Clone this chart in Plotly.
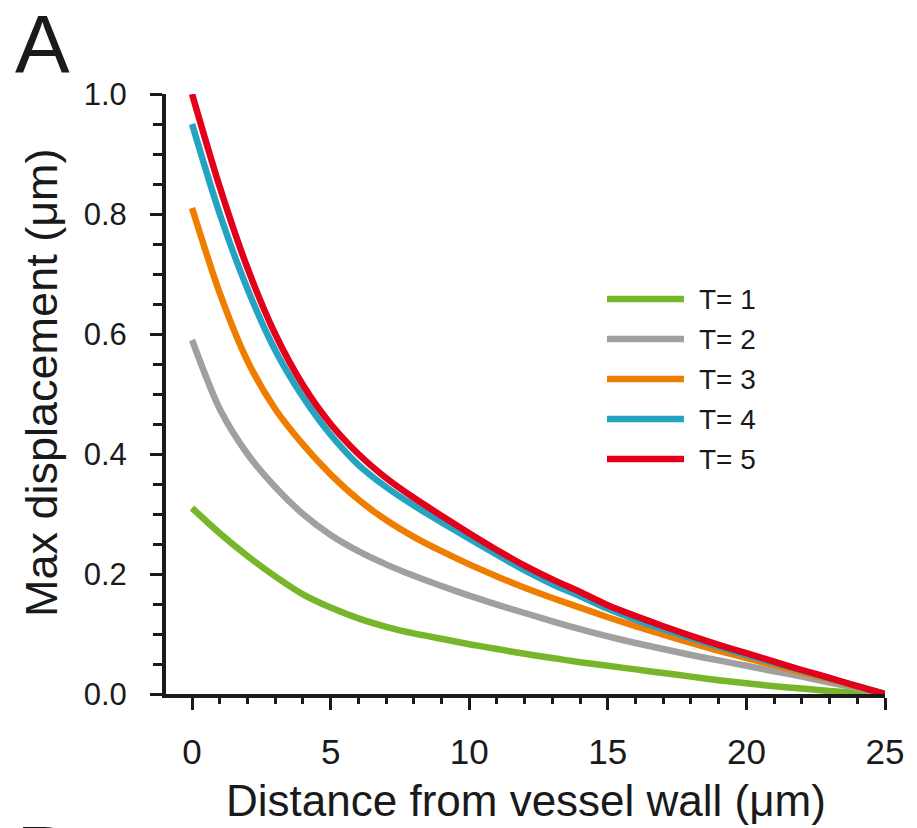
import plotly.graph_objects as go

# ---- data ----
distance = [0, 1, 2, 3, 4, 5, 6, 7, 8, 9, 10, 11, 12, 13, 14, 15, 16, 17, 18, 19, 20, 21, 22, 23, 24, 25]
t1 = [0.310, 0.268, 0.230, 0.196, 0.166, 0.144, 0.126, 0.112, 0.101, 0.092, 0.083, 0.075, 0.067,
      0.060, 0.053, 0.047, 0.041, 0.035, 0.029, 0.023, 0.018, 0.013, 0.009, 0.005, 0.002, 0.0]
t2 = [0.590, 0.475, 0.400, 0.345, 0.300, 0.265, 0.238, 0.216, 0.197, 0.180, 0.164, 0.149, 0.135,
      0.121, 0.108, 0.096, 0.085, 0.075, 0.065, 0.056, 0.047, 0.038, 0.029, 0.019, 0.010, 0.0]
t3 = [0.810, 0.668, 0.555, 0.475, 0.416, 0.366, 0.324, 0.290, 0.262, 0.238, 0.216, 0.196, 0.177,
      0.160, 0.144, 0.128, 0.113, 0.099, 0.085, 0.072, 0.060, 0.048, 0.036, 0.024, 0.012, 0.0]
t4 = [0.950, 0.800, 0.675, 0.573, 0.495, 0.432, 0.382, 0.345, 0.314, 0.286, 0.259, 0.232, 0.206,
      0.183, 0.163, 0.142, 0.124, 0.108, 0.093, 0.079, 0.065, 0.052, 0.039, 0.026, 0.013, 0.0]
t5 = [1.000, 0.845, 0.710, 0.600, 0.515, 0.450, 0.400, 0.360, 0.327, 0.297, 0.268, 0.240, 0.214,
      0.191, 0.170, 0.148, 0.130, 0.113, 0.097, 0.082, 0.068, 0.054, 0.040, 0.027, 0.013, 0.0]

series_names = ["T= 1", "T= 2", "T= 3", "T= 4", "T= 5"]
series_values = [t1, t2, t3, t4, t5]
series_colors = ["#77b52a", "#a0a0a0", "#ef7d00", "#25a4c1", "#e2001a"]

x_ticks = [0, 5, 10, 15, 20, 25]
y_ticks = [0.0, 0.2, 0.4, 0.6, 0.8, 1.0]
y_ticklabels = ["0.0", "0.2", "0.4", "0.6", "0.8", "1.0"]

FONT = "Liberation Sans, Arial, Helvetica, sans-serif"
AXC = "#1a1a1a"

fig = go.Figure()
for name, vals, col in zip(series_names, series_values, series_colors):
    fig.add_trace(go.Scatter(x=distance, y=vals, mode="lines", name=name,
                             line=dict(color=col, width=6.5, shape="spline", smoothing=0.8),
                             showlegend=False))

# page has an 8px body margin: figure is 909x820 and sits at (8,8)
OFF = 8
FIG_W, FIG_H = 917 - OFF, 828 - OFF
L, T, W, H = 166, 94, 719, 600          # plot area in screen pixels


def px2x(px):
    return (px - L) / W


def py2y(py):
    return (T + H - py) / H


shapes = []
annotations = []
for i, (name, col) in enumerate(zip(series_names, series_colors)):
    py = 299 + 40 * i
    shapes.append(dict(type="line", xref="paper", yref="paper",
                       x0=px2x(607), x1=px2x(684), y0=py2y(py), y1=py2y(py),
                       line=dict(color=col, width=6.5)))
    annotations.append(dict(text=name, xref="paper", yref="paper",
                            x=px2x(697), y=py2y(py), xanchor="left", yanchor="middle",
                            showarrow=False, font=dict(size=28, color=AXC, family=FONT)))

annotations.append(dict(text="Distance from vessel wall (μm)", xref="paper", yref="paper",
                        x=px2x(526), y=py2y(800), xanchor="center", yanchor="middle",
                        showarrow=False, font=dict(size=44, color=AXC, family=FONT)))
annotations.append(dict(text="Max displacement (μm)", xref="paper", yref="paper",
                        x=px2x(41), y=py2y(383), xanchor="center", yanchor="middle",
                        textangle=-90, showarrow=False,
                        font=dict(size=45, color=AXC, family=FONT)))
annotations.append(dict(text="A", xref="paper", yref="paper",
                        x=px2x(13), y=py2y(43), xanchor="left", yanchor="middle",
                        showarrow=False, font=dict(size=82, color=AXC, family=FONT)))
annotations.append(dict(text="B", xref="paper", yref="paper",
                        x=px2x(14), y=py2y(856), xanchor="left", yanchor="middle",
                        showarrow=False, font=dict(size=85, color=AXC, family=FONT)))

fig.update_layout(
    width=FIG_W, height=FIG_H,
    margin=dict(l=L - OFF, r=FIG_W - (L - OFF) - W, t=T - OFF, b=FIG_H - (T - OFF) - H),
    paper_bgcolor="white", plot_bgcolor="white",
    font=dict(family=FONT, color=AXC),
    shapes=shapes, annotations=annotations,
    xaxis=dict(range=[-0.94, 25], tickvals=x_ticks, ticktext=[str(v) for v in x_ticks],
               ticks="outside", ticklen=12, tickwidth=3, tickcolor=AXC,
               showline=True, linewidth=4, linecolor=AXC, showgrid=False, zeroline=False,
               tickfont=dict(size=35, color=AXC, family=FONT), ticklabelstandoff=12,
               minor=dict(dtick=1, tick0=0, ticks="outside", ticklen=6, tickwidth=2.5, tickcolor=AXC)),
    yaxis=dict(range=[0, 1], tickvals=y_ticks, ticktext=y_ticklabels,
               ticks="outside", ticklen=12, tickwidth=3, tickcolor=AXC,
               showline=True, linewidth=4, linecolor=AXC, showgrid=False, zeroline=False,
               tickfont=dict(size=31, color=AXC, family=FONT), ticklabelstandoff=17,
               minor=dict(dtick=0.05, tick0=0, ticks="outside", ticklen=9, tickwidth=2.5, tickcolor=AXC)),
)

fig.write_html("out.html")
